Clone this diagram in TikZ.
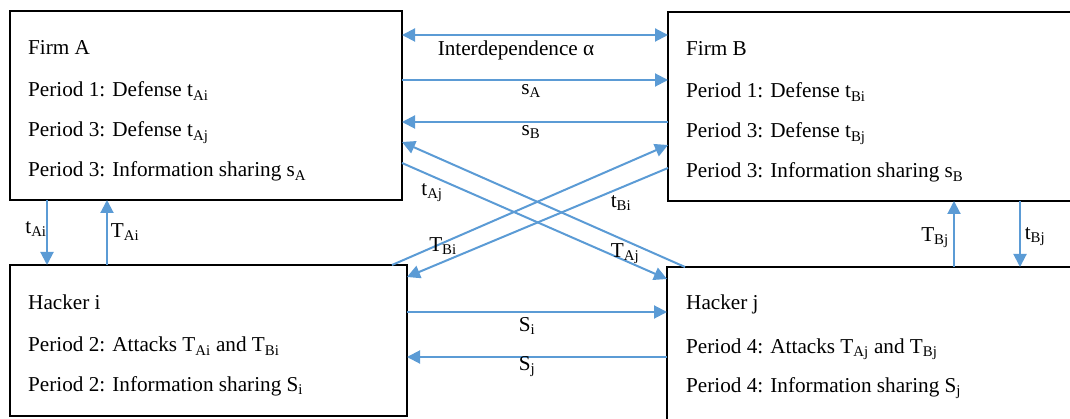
\documentclass[tikz,border=0pt]{standalone}
\usepackage{fontspec}
\setmainfont{Liberation Serif}
\usetikzlibrary{arrows.meta,calc}
\definecolor{arr}{HTML}{5B9BD5}
\newcommand{\sbs}[1]{\textsubscript{#1}}
\begin{document}
\begin{tikzpicture}[x=1pt,y=-1pt,
  box/.style={draw=black,line width=1.3pt,inner sep=0pt,outer sep=0pt},
  txt/.style={anchor=base west,inner sep=0pt,font=\fontsize{21.2}{24}\selectfont},
  lbl/.style={inner sep=0pt,font=\fontsize{21.2}{24}\selectfont},
  conn/.style={draw=arr,line width=2pt,-{Triangle[length=13pt,width=13pt]}},
  conn2/.style={draw=arr,line width=2pt,{Triangle[length=13pt,width=13pt]}-{Triangle[length=13pt,width=13pt]}}]
\useasboundingbox (0,0) rectangle (1070,419);
\clip (0,0) rectangle (1070,419);
% boxes
\node[box,minimum width=392pt,minimum height=189pt] (A) at (206,105.5) {};
\node[box,minimum width=410pt,minimum height=189pt] (B) at (873,106.5) {};
\node[box,minimum width=397pt,minimum height=151pt] (Hi) at (208.5,340.5) {};
\node[box,minimum width=410pt,minimum height=160pt] (Hj) at (872,347) {};
% box texts
\node[txt] (a1) at (28,55) {Firm A};
\node[txt] (a2) at (28,97) {Period 1: Defense t\sbs{Ai}};
\node[txt] (a3) at (28,137) {Period 3: Defense t\sbs{Aj}};
\node[txt] (a4) at (28,177) {Period 3: Information sharing s\sbs{A}};
\node[txt] (b1) at (686,56) {Firm B};
\node[txt] (b2) at (686,98) {Period 1: Defense t\sbs{Bi}};
\node[txt] (b3) at (686,138) {Period 3: Defense t\sbs{Bj}};
\node[txt] (b4) at (686,178) {Period 3: Information sharing s\sbs{B}};
\node[txt] (h1) at (28,309) {Hacker i};
\node[txt] (h2) at (28,352) {Period 2: Attacks T\sbs{Ai} and T\sbs{Bi}};
\node[txt] (h3) at (28,391) {Period 2: Information sharing S\sbs{i}};
\node[txt] (j1) at (686,310) {Hacker j};
\node[txt] (j2) at (686,353) {Period 4: Attacks T\sbs{Aj} and T\sbs{Bj}};
\node[txt] (j3) at (686,392) {Period 4: Information sharing S\sbs{j}};
% horizontal connectors
\draw[conn2] (A.east |- 0,35) -- (B.west |- 0,35);
\draw[conn] (A.east |- 0,80) -- (B.west |- 0,80);
\draw[conn] (B.west |- 0,122) -- (A.east |- 0,122);
\draw[conn] (Hi.east |- 0,312) -- (Hj.west |- 0,312);
\draw[conn] (Hj.west |- 0,357) -- (Hi.east |- 0,357);
% diagonals
\draw[conn] (A.east |- 0,163) -- (Hj.north west |- 0,279);
\draw[conn] (685,0 |- Hj.north) -- (A.east |- 0,142);
\draw[conn] (392,0 |- Hi.north) -- (B.west |- 0,145);
\draw[conn] (B.west |- 0,168) -- (Hi.east |- 0,277);
% verticals
\draw[conn] (47,0 |- A.south) -- (47,0 |- Hi.north);
\draw[conn] (107,0 |- Hi.north) -- (107,0 |- A.south);
\draw[conn] (954,0 |- Hj.north) -- (954,0 |- B.south);
\draw[conn] (1020,0 |- B.south) -- (1020,0 |- Hj.north);
% labels
\node[lbl] (lI) at (516,50) {Interdependence α};
\node[lbl] (lsA) at (531,91) {s\sbs{A}};
\node[lbl] (lsB) at (531,132) {s\sbs{B}};
\node[lbl] (ltAj) at (432,193) {t\sbs{Aj}};
\node[lbl] (ltBi) at (621,203) {t\sbs{Bi}};
\node[lbl] (lTBi) at (443,246) {T\sbs{Bi}};
\node[lbl] (lTAj) at (625,254) {T\sbs{Aj}};
\node[lbl] (lSi) at (527,326) {S\sbs{i}};
\node[lbl] (lSj) at (527,367) {S\sbs{j}};
\node[lbl] (ltAi) at (36,229) {t\sbs{Ai}};
\node[lbl] (lTAi) at (125,232) {T\sbs{Ai}};
\node[lbl] (lTBj) at (935,238) {T\sbs{Bj}};
\node[lbl] (ltBj) at (1035,237) {t\sbs{Bj}};
\end{tikzpicture}
\end{document}
